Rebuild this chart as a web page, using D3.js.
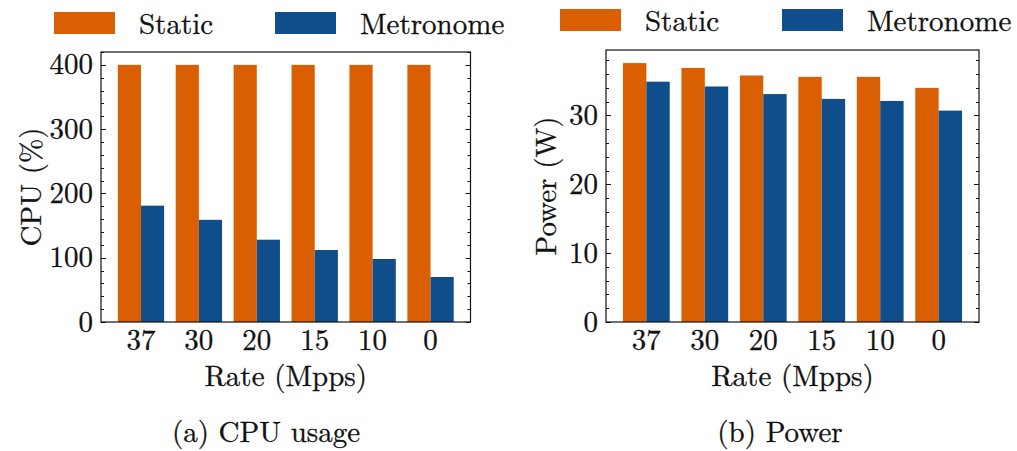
<!DOCTYPE html>
<html>
<head>
<meta charset="utf-8">
<script src="https://cdn.jsdelivr.net/npm/d3@7"></script>
<style>
  body { margin: 0; background: #fff; }
  svg text { font-family: "Latin Modern Roman", "Liberation Serif", serif; fill: #111; stroke: #111; stroke-width: 0.3px; }
</style>
</head>
<body>
<svg id="chart" width="1017" height="451"></svg>
<script>
// data
const rates = ["37", "30", "20", "15", "10", "0"];
const seriesNames = ["Static", "Metronome"];
const cpuStatic = [400, 400, 400, 400, 400, 400];
const cpuMetronome = [181, 159, 128, 112, 98, 70];
const powerStatic = [37.6, 36.9, 35.8, 35.6, 35.6, 34.0];
const powerMetronome = [34.9, 34.2, 33.1, 32.4, 32.1, 30.7];
const cpuTicks = [0, 100, 200, 300, 400];
const powerTicks = [0, 10, 20, 30];

const colors = ["#d95f02", "#104e8b"];
const fontSize = 29;

const svg = d3.select('#chart');

function drawPanel(cfg) {
  const g = svg.append('g');
  const barW = 0.4;

  const x = d3.scaleLinear()
    .domain([-0.5 + 0.1 - 0.29, rates.length - 0.6 + 0.29])
    .range([cfg.left, cfg.right]);
  const y = d3.scaleLinear()
    .domain(cfg.yDomain)
    .range([cfg.bottom, cfg.top]);

  // bars
  [cfg.a, cfg.b].forEach((vals, s) => {
    g.append('g').selectAll('rect')
      .data(vals)
      .enter()
      .append('rect')
      .attr('x', (d, i) => x(i - barW + s * barW))
      .attr('width', (d, i) => x(i + barW) - x(i))
      .attr('y', d => y(d))
      .attr('height', d => y(0) - y(d))
      .style('fill', colors[s]);
  });

  // minor + major ticks, inward, on both sides
  const minor = d3.range(0, cfg.yDomain[1] + 1e-9, cfg.minorStep);
  const tickG = g.append('g').style('stroke', '#111').style('stroke-width', 1);
  minor.forEach(v => {
    const isMajor = cfg.ticks.indexOf(+v.toFixed(6)) >= 0;
    const len = isMajor ? 5 : 3;
    const yy = Math.round(y(v)) + 0.5;
    tickG.append('line').attr('x1', cfg.left).attr('x2', cfg.left + len).attr('y1', yy).attr('y2', yy);
    tickG.append('line').attr('x1', cfg.right).attr('x2', cfg.right - len).attr('y1', yy).attr('y2', yy);
  });

  // frame
  g.append('rect')
    .attr('x', cfg.left).attr('y', cfg.top)
    .attr('width', cfg.right - cfg.left).attr('height', cfg.bottom - cfg.top)
    .style('fill', 'none').style('stroke', '#111').style('stroke-width', 1.2);

  // y tick labels
  g.append('g').selectAll('text')
    .data(cfg.ticks)
    .enter()
    .append('text')
    .attr('x', cfg.left - 8)
    .attr('y', d => y(d))
    .attr('dy', '0.33em')
    .attr('text-anchor', 'end')
    .style('font-size', fontSize + 'px')
    .text(d => d);

  // x tick labels
  g.append('g').selectAll('text')
    .data(rates)
    .enter()
    .append('text')
    .attr('x', (d, i) => x(i))
    .attr('y', 350)
    .attr('text-anchor', 'middle')
    .style('font-size', fontSize + 'px')
    .text(d => d);

  const midX = (cfg.left + cfg.right) / 2;
  g.append('text')
    .attr('x', midX).attr('y', 386)
    .attr('text-anchor', 'middle')
    .style('font-size', fontSize + 'px')
    .text('Rate (Mpps)');

  g.append('text')
    .attr('transform', `translate(${cfg.yLabelX}, ${(cfg.top + cfg.bottom) / 2}) rotate(-90)`)
    .attr('text-anchor', 'middle')
    .style('font-size', fontSize + 'px')
    .text(cfg.yLabel);

  g.append('text')
    .attr('x', cfg.captionX).attr('y', 442)
    .attr('text-anchor', 'middle')
    .style('font-size', fontSize + 'px')
    .text(cfg.caption);

  // legend
  const leg = g.append('g');
  seriesNames.forEach((name, s) => {
    const lx = cfg.legendX + s * cfg.legendGap;
    leg.append('rect')
      .attr('x', lx).attr('y', cfg.legendY)
      .attr('width', 61).attr('height', 22)
      .style('fill', colors[s]);
    leg.append('text')
      .attr('x', lx + 85).attr('y', cfg.legendY + 21.5)
      .style('font-size', fontSize + 'px')
      .text(name);
  });
}

drawPanel({
  a: cpuStatic, b: cpuMetronome,
  left: 101, right: 470.5, top: 52, bottom: 322,
  yDomain: [0, 420], ticks: cpuTicks, minorStep: 20,
  yLabel: 'CPU (%)', yLabelX: 41,
  caption: '(a) CPU usage', captionX: 266,
  legendX: 54, legendY: 12, legendGap: 221
});

drawPanel({
  a: powerStatic, b: powerMetronome,
  left: 606, right: 979, top: 50, bottom: 322,
  yDomain: [0, 39.5], ticks: powerTicks, minorStep: 2,
  yLabel: 'Power (W)', yLabelX: 556,
  caption: '(b) Power', captionX: 780,
  legendX: 560, legendY: 9, legendGap: 222
});
</script>
</body>
</html>
